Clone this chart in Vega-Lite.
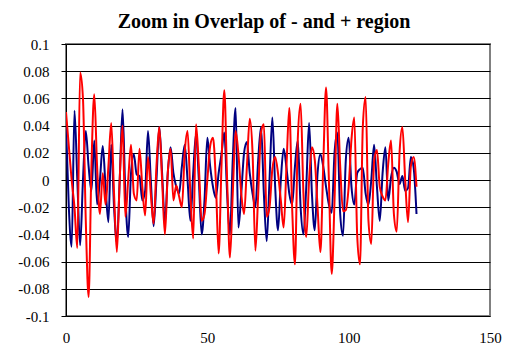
{
  "$schema": "https://vega.github.io/schema/vega-lite/v6.json",
  "width": 424,
  "height": 272,
  "autosize": "none",
  "padding": {"left": 66, "top": 44, "right": 22, "bottom": 34},
  "background": "white",
  "title": {"text": "Zoom in Overlap of - and + region", "font": "Liberation Serif", "fontSize": 20, "fontWeight": "bold", "color": "#000000", "anchor": "middle", "dx": -14, "offset": 5},
  "config": {"view": {"stroke": "#808080", "strokeWidth": 2}, "font": "Liberation Serif", "style": {"guide-label": {"font": "Liberation Serif", "fontSize": 15, "fill": "#000000"}}},
  "data": {"values": [
    {"x":0,"s1":0.04,"s2":0.05},{"x":1,"s1":-0.02,"s2":0.025},{"x":2,"s1":-0.049,"s2":0.0},{"x":3,"s1":0.051,"s2":-0.02},{"x":4,"s1":0.0,"s2":-0.05},
    {"x":5,"s1":-0.048,"s2":0.079},{"x":6,"s1":0.0,"s2":0.06},{"x":7,"s1":0.036,"s2":-0.03},{"x":8,"s1":0.01,"s2":-0.086},{"x":9,"s1":-0.008,"s2":0.01},
    {"x":10,"s1":0.029,"s2":0.063},{"x":11,"s1":-0.018,"s2":0.01},{"x":12,"s1":0.0,"s2":-0.025},{"x":13,"s1":0.025,"s2":0.005},{"x":14,"s1":-0.005,"s2":-0.018},
    {"x":15,"s1":-0.031,"s2":0.01},{"x":16,"s1":0.026,"s2":0.042},{"x":17,"s1":-0.02,"s2":-0.01},{"x":18,"s1":-0.046,"s2":-0.053},{"x":19,"s1":0.0,"s2":0.0},
    {"x":20,"s1":0.052,"s2":0.04},{"x":21,"s1":-0.01,"s2":-0.027},{"x":22,"s1":-0.042,"s2":0.0},{"x":23,"s1":0.005,"s2":0.026},{"x":24,"s1":0.019,"s2":-0.01},
    {"x":25,"s1":0.004,"s2":-0.015},{"x":26,"s1":0.003,"s2":0.023},{"x":27,"s1":-0.015,"s2":-0.005},{"x":28,"s1":-0.008,"s2":-0.026},{"x":29,"s1":0.036,"s2":0.017},
    {"x":30,"s1":0.0,"s2":-0.01},{"x":31,"s1":-0.034,"s2":-0.032},{"x":32,"s1":0.0,"s2":0.01},{"x":33,"s1":0.039,"s2":0.039},{"x":34,"s1":0.005,"s2":0.0},
    {"x":35,"s1":-0.032,"s2":-0.04},{"x":36,"s1":0.005,"s2":0.005},{"x":37,"s1":0.024,"s2":0.023},{"x":38,"s1":0.005,"s2":-0.015},{"x":39,"s1":-0.005,"s2":-0.004},
    {"x":40,"s1":-0.01,"s2":-0.012},{"x":41,"s1":0.01,"s2":-0.02},{"x":42,"s1":0.026,"s2":0.02},{"x":43,"s1":0.0,"s2":0.036},{"x":44,"s1":-0.03,"s2":-0.01},
    {"x":45,"s1":0.005,"s2":-0.043},{"x":46,"s1":0.034,"s2":0.041},{"x":47,"s1":0.0,"s2":0.01},{"x":48,"s1":-0.04,"s2":-0.03},{"x":49,"s1":-0.015,"s2":-0.025},
    {"x":50,"s1":0.031,"s2":0.0},{"x":51,"s1":0.01,"s2":0.025},{"x":52,"s1":-0.005,"s2":0.031},{"x":53,"s1":-0.013,"s2":0.0},{"x":54,"s1":0.005,"s2":-0.054},
    {"x":55,"s1":0.019,"s2":0.01},{"x":56,"s1":0.035,"s2":0.066},{"x":57,"s1":-0.01,"s2":0.0},{"x":58,"s1":-0.04,"s2":-0.057},{"x":59,"s1":0.015,"s2":-0.01},
    {"x":60,"s1":0.053,"s2":0.036},{"x":61,"s1":-0.035,"s2":0.019},{"x":62,"s1":-0.01,"s2":-0.01},{"x":63,"s1":0.02,"s2":-0.025},{"x":64,"s1":0.028,"s2":0.01},
    {"x":65,"s1":0.005,"s2":0.045},{"x":66,"s1":-0.01,"s2":0.02},{"x":67,"s1":-0.02,"s2":-0.052},{"x":68,"s1":0.015,"s2":-0.01},{"x":69,"s1":0.039,"s2":0.035},
    {"x":70,"s1":-0.01,"s2":0.041},{"x":71,"s1":-0.045,"s2":-0.027},{"x":72,"s1":0.0,"s2":-0.02},{"x":73,"s1":0.046,"s2":0.008},{"x":74,"s1":-0.005,"s2":0.017},
    {"x":75,"s1":-0.037,"s2":0.005},{"x":76,"s1":0.0,"s2":-0.015},{"x":77,"s1":0.023,"s2":-0.035},{"x":78,"s1":0.009,"s2":0.01},{"x":79,"s1":-0.01,"s2":0.053},
    {"x":80,"s1":-0.018,"s2":-0.02},{"x":81,"s1":0.01,"s2":-0.062},{"x":82,"s1":0.029,"s2":0.03},{"x":83,"s1":-0.02,"s2":0.056},{"x":84,"s1":-0.04,"s2":-0.01},
    {"x":85,"s1":-0.005,"s2":-0.042},{"x":86,"s1":0.042,"s2":0.0},{"x":87,"s1":-0.01,"s2":0.024},{"x":88,"s1":-0.037,"s2":0.015},{"x":89,"s1":0.005,"s2":-0.02},
    {"x":90,"s1":0.019,"s2":-0.053},{"x":91,"s1":0.01,"s2":0.01},{"x":92,"s1":-0.005,"s2":0.068},{"x":93,"s1":-0.018,"s2":0.0},{"x":94,"s1":-0.024,"s2":-0.069},
    {"x":95,"s1":0.02,"s2":-0.015},{"x":96,"s1":0.035,"s2":0.056},{"x":97,"s1":-0.025,"s2":0.01},{"x":98,"s1":-0.041,"s2":-0.023},{"x":99,"s1":0.015,"s2":-0.022},
    {"x":100,"s1":0.031,"s2":-0.005},{"x":101,"s1":-0.005,"s2":0.03},{"x":102,"s1":-0.018,"s2":0.046},{"x":103,"s1":0.005,"s2":-0.04},{"x":104,"s1":0.008,"s2":-0.062},
    {"x":105,"s1":0.009,"s2":0.039},{"x":106,"s1":-0.01,"s2":0.061},{"x":107,"s1":-0.018,"s2":-0.03},{"x":108,"s1":0.0,"s2":-0.047},{"x":109,"s1":0.026,"s2":0.014},
    {"x":110,"s1":-0.005,"s2":0.022},{"x":111,"s1":-0.03,"s2":-0.005},{"x":112,"s1":0.005,"s2":-0.012},{"x":113,"s1":0.024,"s2":-0.015},{"x":114,"s1":-0.015,"s2":0.012},
    {"x":115,"s1":0.002,"s2":0.029},{"x":116,"s1":0.009,"s2":-0.025},{"x":117,"s1":0.006,"s2":-0.038},{"x":118,"s1":-0.003,"s2":0.02},{"x":119,"s1":0.003,"s2":0.039},
    {"x":120,"s1":-0.008,"s2":0.0},{"x":121,"s1":-0.006,"s2":-0.031},{"x":122,"s1":0.017,"s2":0.01},{"x":123,"s1":0.009,"s2":0.017},{"x":124,"s1":-0.025,"s2":-0.005}
  ]},
  "transform": [{"fold": ["s1", "s2"], "as": ["series", "value"]}],
  "mark": {"type": "line", "strokeWidth": 2, "clip": true, "interpolate": "monotone"},
  "encoding": {
    "x": {"field": "x", "type": "quantitative",
      "scale": {"domain": [0, 150], "nice": false, "zero": false},
      "axis": {"values": [0, 50, 100, 150], "title": null, "domain": false, "ticks": false, "grid": false,
        "labelFont": "Liberation Serif", "labelFontSize": 15, "labelColor": "#000000", "labelPadding": 14, "labelFlush": false,
        "encode": {"labels": {"update": {"font": {"value": "Liberation Serif"}}}}}},
    "y": {"field": "value", "type": "quantitative",
      "scale": {"domain": [-0.1, 0.1], "nice": false},
      "axis": {"values": [-0.1, -0.08, -0.06, -0.04, -0.02, 0, 0.02, 0.04, 0.06, 0.08, 0.1], "title": null,
        "labelExpr": "'' + datum.value",
        "domain": true, "domainColor": "#000000", "domainWidth": 1,
        "ticks": true, "tickColor": "#000000", "tickSize": 5,
        "grid": true, "gridColor": "#000000", "gridOpacity": 1, "gridWidth": 1,
        "labelFont": "Liberation Serif", "labelFontSize": 15, "labelColor": "#000000", "labelPadding": 12, "labelFlush": false,
        "encode": {"labels": {"update": {"font": {"value": "Liberation Serif"}}}}}},
    "color": {"field": "series", "type": "nominal", "scale": {"domain": ["s1", "s2"], "range": ["#000080", "#ff0000"]}, "legend": null}
  }
}
